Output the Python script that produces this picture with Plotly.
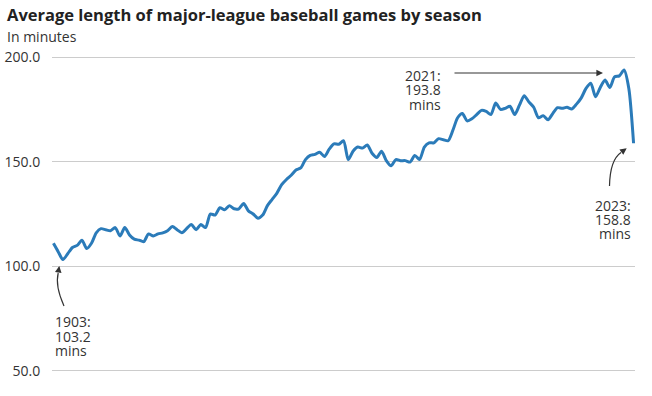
import plotly.graph_objects as go

# ---- data ----
years = list(range(1901, 2024))
minutes = [
    111.0, 107.0, 103.2, 106.0, 109.0, 110.0, 112.5, 108.5, 111.0, 116.0,   # 1901-1910
    118.0, 117.5, 117.0, 118.5, 114.5, 118.5, 115.0, 113.0, 112.5, 111.8,   # 1911-1920
    115.5, 114.5, 115.5, 116.0, 117.0, 119.0, 117.5, 116.0, 118.0, 120.0,   # 1921-1930
    117.5, 120.0, 118.5, 125.0, 124.5, 128.0, 127.0, 129.0, 127.5, 127.5,   # 1931-1940
    130.0, 126.5, 125.0, 123.0, 124.5, 129.0, 132.0, 135.0, 139.0, 141.5,   # 1941-1950
    143.5, 146.0, 147.0, 151.0, 153.0, 153.5, 154.5, 152.5, 156.0, 158.5,   # 1951-1960
    158.3, 160.0, 151.0, 155.0, 157.0, 156.5, 158.0, 154.0, 152.0, 155.0,   # 1961-1970
    150.5, 148.0, 151.0, 150.5, 150.5, 149.8, 153.0, 151.0, 157.0, 159.0,   # 1971-1980
    159.0, 161.0, 160.5, 160.0, 165.0, 171.0, 173.0, 169.5, 170.5, 172.5,   # 1981-1990
    174.5, 174.0, 172.5, 178.0, 175.0, 175.5, 176.5, 172.5, 177.0, 181.5,   # 1991-2000
    178.5, 176.0, 171.0, 172.0, 170.0, 173.0, 175.8, 175.5, 176.0, 175.2,   # 2001-2010
    177.5, 180.5, 185.0, 187.5, 181.0, 185.5, 189.0, 185.5, 190.5, 191.0,   # 2011-2020
    193.8, 185.0, 158.8,                                                    # 2021-2023
]
y_ticks = [50, 100, 150, 200]
y_tick_labels = ["50.0", "100.0", "150.0", "200.0"]

title_text = "Average length of major-league baseball games by season"
subtitle_text = "In minutes"
note_2021 = ["2021:", "193.8", "mins"]
note_2023 = ["2023:", "158.8", "mins"]
note_1903 = ["1903:", "103.2", "mins"]

# ---- layout geometry ----
W, H = 652, 396
ML, MR, MT, MB = 52, 17, 56, 24
XR = [1900.7, 2023.3]
YR = [49.5, 200.5]
PW, PH = W - ML - MR, H - MT - MB

def dx(px):
    return XR[0] + (px - ML) / PW * (XR[1] - XR[0])

def dy(py):
    return YR[1] - (py - MT) / PH * (YR[1] - YR[0])

def px2paper_x(px):
    return (px - ML) / PW

def py2paper_y(py):
    return (H - MB - py) / PH

INK = "#333333"
FONT = "Open Sans"

fig = go.Figure()
fig.add_trace(go.Scatter(
    x=years, y=minutes, mode="lines",
    line=dict(color="#2b7bb9", width=3, shape="spline", smoothing=0.7),
    hoverinfo="skip", showlegend=False,
))

annotations = []
shapes = []

def text_ann(s, px, py, anchor, size=14, color=INK, bold=False):
    annotations.append(dict(
        text=f"<b>{s}</b>" if bold else s,
        x=px2paper_x(px), y=py2paper_y(py), xref="paper", yref="paper",
        xanchor=anchor, yanchor="middle", showarrow=False, borderpad=0,
        font=dict(family=FONT, size=size, color=color),
    ))

# title & subtitle
text_ann(title_text, 6, 15, "left", size=16.5, color="#222222", bold=True)
text_ann(subtitle_text, 6, 36, "left", size=14)

# notes
for i, s in enumerate(note_2021):
    text_ann(s, 442, 75 + i * 14.5, "right")
for i, s in enumerate(note_2023):
    text_ann(s, 631.5, 205.5 + i * 14.2, "right")
for i, s in enumerate(note_1903):
    text_ann(s, 53.5, 321.5 + i * 14.5, "left")

def arrow(tip, tail):
    annotations.append(dict(
        text="", x=dx(tip[0]), y=dy(tip[1]), xref="x", yref="y",
        ax=dx(tail[0]), ay=dy(tail[1]), axref="x", ayref="y",
        showarrow=True, arrowhead=2, arrowsize=1.1, arrowwidth=1.2,
        arrowcolor=INK, standoff=0, startstandoff=0,
    ))

def curve(p0, p1, p2):
    path = (f"M {dx(p0[0])},{dy(p0[1])} Q {dx(p1[0])},{dy(p1[1])} "
            f"{dx(p2[0])},{dy(p2[1])}")
    shapes.append(dict(type="path", path=path, xref="x", yref="y",
                       line=dict(color=INK, width=1.2)))

# 2021 horizontal arrow
arrow((603, 73), (453, 73))
# 2023 curved arrow
curve((609.5, 186), (610, 160), (621, 152.5))
arrow((626.7, 148.3), (620.5, 152.8))
# 1903 curved arrow
curve((64, 306), (55, 286), (58.2, 273))
arrow((59.3, 266), (58.1, 273.5))

fig.update_layout(
    width=W, height=H,
    margin=dict(l=ML, r=MR, t=MT, b=MB, pad=0, autoexpand=False),
    paper_bgcolor="white", plot_bgcolor="white",
    font=dict(family=FONT, size=14, color=INK),
    xaxis=dict(range=XR, showgrid=False, zeroline=False, showline=False,
               showticklabels=False, ticks="", fixedrange=True,
               automargin=False),
    yaxis=dict(range=YR, tickvals=y_ticks, ticktext=y_tick_labels,
               showgrid=True, gridcolor="#cccccc", gridwidth=1,
               zeroline=False, showline=False, ticks="outside",
               ticklen=8, tickcolor="rgba(0,0,0,0)",
               tickfont=dict(family=FONT, size=14, color=INK),
               fixedrange=True, automargin=False),
    annotations=annotations, shapes=shapes,
    showlegend=False,
)

fig.write_html(
    "out.html",
    config={"displayModeBar": False},
    post_script="document.body.style.margin='0px';document.body.style.overflow='hidden';",
)
